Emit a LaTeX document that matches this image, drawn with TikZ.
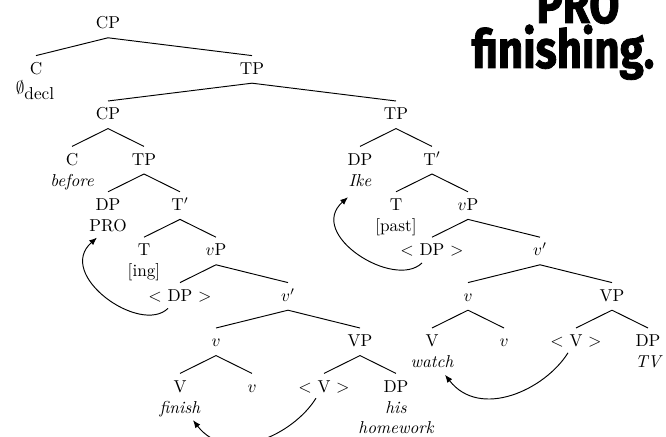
\documentclass[tikz,border=0pt]{standalone}
\usepackage{fontspec}
\usetikzlibrary{arrows.meta}
\newfontfamily\titlefont{Fira Sans}[FakeStretch=0.82,FakeBold=1.5]
\begin{document}
\begin{tikzpicture}[x=0.58pt,y=-0.58pt,
  lbl/.style={inner xsep=1pt,inner ysep=3.9pt,text height=6.8pt,text depth=1pt,anchor=center},
  sub/.style={inner sep=0pt,anchor=base},
  br/.style={line width=0.55pt},
  mv/.style={line width=0.55pt,-{Latex[length=4.5pt,width=3.6pt]}},
  ttl/.style={inner sep=0pt,anchor=base,font=\titlefont\bfseries\fontsize{31}{31}\selectfont}]
\useasboundingbox (0,0) rectangle (666,437);
\clip (0,0) rectangle (666,437);

% row heights
\def\ra{24}\def\rb{69.4}\def\rc{114.8}\def\rd{160.2}\def\re{205.6}
\def\rf{251}\def\rg{296.4}\def\rh{341.8}\def\ri{387.2}

% title
\node[ttl] (ttlA) at (578,23) {PRO};
\node[ttl] (ttlB) at (563,68) {finishing.};

% tree labels
\node[lbl] (cp1) at (108,\ra) {CP};
\node[lbl] (c1) at (36,\rb) {C};
\node[lbl] (tp1) at (252,\rb) {TP};
\node[lbl] (cp2) at (108,\rc) {CP};
\node[lbl] (tp2) at (396,\rc) {TP};
\node[lbl] (c2) at (72,\rd) {C};
\node[lbl] (tp3) at (144,\rd) {TP};
\node[lbl] (dp2) at (360,\rd) {DP};
\node[lbl] (tb2) at (432,\rd) {T$'$};
\node[lbl] (dp1) at (108,\re) {DP};
\node[lbl] (tb1) at (180,\re) {T$'$};
\node[lbl] (t2) at (396,\re) {T};
\node[lbl] (vp2) at (468,\re) {$v$P};
\node[lbl] (t1) at (144,\rf) {T};
\node[lbl] (vp1) at (216,\rf) {$v$P};
\node[lbl] (dpt2) at (432,\rf) {$<$ DP $>$};
\node[lbl] (vb2) at (540,\rf) {$v'$};
\node[lbl] (dpt1) at (180,\rg) {$<$ DP $>$};
\node[lbl] (vb1) at (288,\rg) {$v'$};
\node[lbl] (vs2) at (468,\rg) {$v$};
\node[lbl] (vpb2) at (612,\rg) {VP};
\node[lbl] (vs1) at (216,\rh) {$v$};
\node[lbl] (vpb1) at (360,\rh) {VP};
\node[lbl] (vv2) at (432,\rh) {V};
\node[lbl] (vl2) at (504,\rh) {$v$};
\node[lbl] (vt2) at (576,\rh) {$<$ V $>$};
\node[lbl] (obj2) at (648,\rh) {DP};
\node[lbl] (vv1) at (180,\ri) {V};
\node[lbl] (vl1) at (252,\ri) {$v$};
\node[lbl] (vt1) at (324,\ri) {$<$ V $>$};
\node[lbl] (obj1) at (396,\ri) {DP};

% words under the labels
\node[sub] (null) at (35,94) {$\emptyset$\raisebox{-3pt}{decl}};
\node[sub] (before) at (72,\rd+26) {\itshape before};
\node[sub] (pro) at (108,\re+26) {PRO};
\node[sub] (ing) at (144,\rf+26) {[ing]};
\node[sub] (finish) at (180,\ri+26) {\itshape finish};
\node[sub] (his) at (396,\ri+26) {\itshape his};
\node[sub] (hw) at (396,\ri+46) {\itshape homework};
\node[sub] (ike) at (360,\rd+26) {\itshape Ike};
\node[sub] (past) at (396,\re+26) {[past]};
\node[sub] (watch) at (432,\rh+26) {\itshape watch};
\node[sub] (tv) at (648,\rh+26) {\itshape TV};

% branches
\foreach \p/\c in {cp1/c1,cp1/tp1,tp1/cp2,tp1/tp2,cp2/c2,cp2/tp3,tp3/dp1,tp3/tb1,
  tb1/t1,tb1/vp1,vp1/dpt1,vp1/vb1,vb1/vs1,vb1/vpb1,vs1/vv1,vs1/vl1,vpb1/vt1,vpb1/obj1,
  tp2/dp2,tp2/tb2,tb2/t2,tb2/vp2,vp2/dpt2,vp2/vb2,vb2/vs2,vb2/vpb2,vs2/vv2,vs2/vl2,
  vpb2/vt2,vpb2/obj2}
  \draw[br] (\p.south) -- (\c.north);

% movement arrows
\draw[mv] ([shift={(-12,12)}]dpt1.center) .. controls +(-28,27) and +(-42,37) .. ([shift={(-11,6)}]pro.base);
\draw[mv] ([shift={(-10,12)}]dpt2.center) .. controls +(-28,27) and +(-42,37) .. ([shift={(-12,11)}]ike.base);
\draw[mv] ([shift={(-8,11)}]vt2.center) .. controls +(-23,37) and +(35,45) .. ([shift={(13,7)}]watch.base);
\draw[mv] ([shift={(-8,11)}]vt1.center) .. controls +(-23,37) and +(35,45) .. ([shift={(13,7)}]finish.base);
\end{tikzpicture}
\end{document}
